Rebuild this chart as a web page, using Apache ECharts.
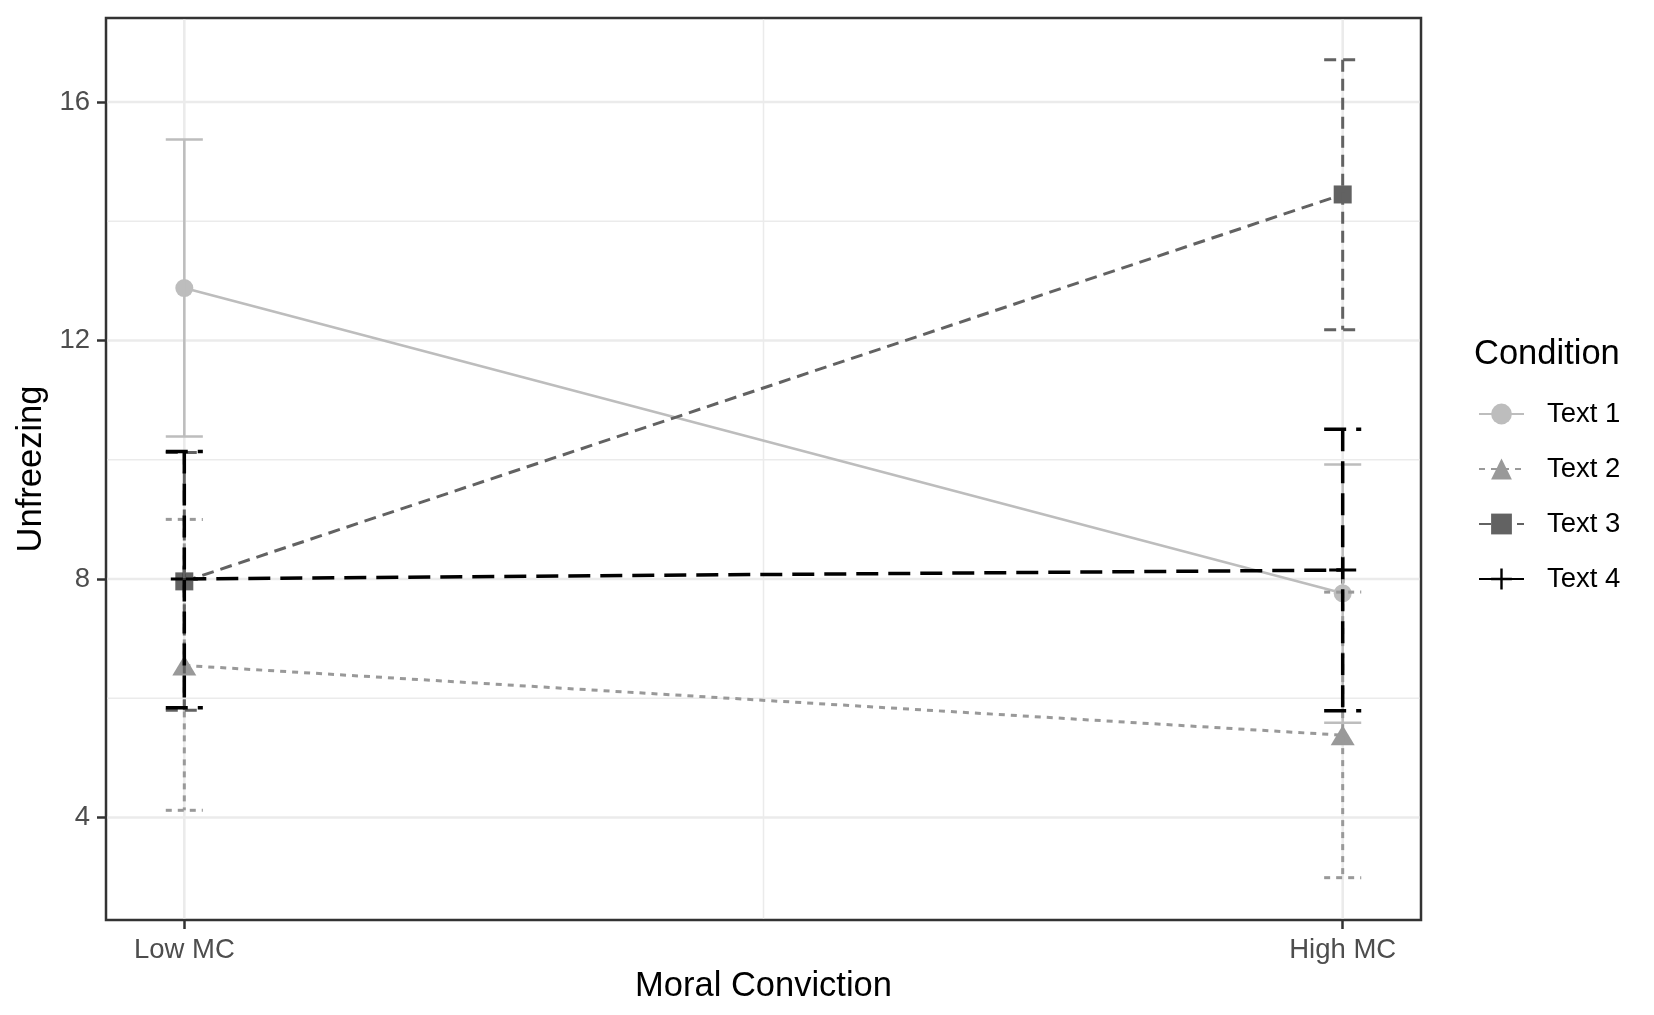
<!DOCTYPE html>
<html lang="en">
<head>
    <meta charset="utf-8">
    <title>Unfreezing by Moral Conviction</title>
    <script src="https://cdn.jsdelivr.net/npm/echarts@6/dist/echarts.min.js"></script>
    <style type="text/css">
        html, body {
            width: 100%;
            height: 100%;
            margin: 0px;
            padding: 0px;
            background: #ffffff;
        }

        #main {
            width: 1654px;
            height: 1015px;
        }
    </style>
</head>
<body>
<div id="main"></div>
<script>
    // data
    var categories = ['Low MC', 'High MC'];
    var catPos = [1, 2];
    var conditions = ['Text 1', 'Text 2', 'Text 3', 'Text 4'];

    var text1Mean = [12.88, 7.76];
    var text1Lower = [10.39, 5.59];
    var text1Upper = [15.37, 9.92];

    var text2Mean = [6.55, 5.38];
    var text2Lower = [4.12, 2.99];
    var text2Upper = [9.00, 7.78];

    var text3Mean = [7.96, 14.45];
    var text3Lower = [5.80, 12.18];
    var text3Upper = [10.12, 16.71];

    var text4Mean = [8.00, 8.15];
    var text4Lower = [5.84, 5.79];
    var text4Upper = [10.14, 10.51];

    var yTicks = [4, 8, 12, 16];
    var yMinorGrid = [6, 10, 14];
    var xMinorGrid = [1.5];

    var means = [text1Mean, text2Mean, text3Mean, text4Mean];
    var lowers = [text1Lower, text2Lower, text3Lower, text4Lower];
    var uppers = [text1Upper, text2Upper, text3Upper, text4Upper];

    // look
    var colors = ['#bdbdbd', '#999999', '#626262', '#000000'];
    var widths = [2.5, 3, 3, 3.5];
    var dashes = ['solid', [6, 6], [12, 7], [22, 10]];
    var plusPath = 'path://M11.5,0h3v11.5h11.5v3h-11.5v11.5h-3v-11.5h-11.5v-3h11.5z';
    var symbols = ['circle', 'triangle', 'rect', plusPath];
    var symbolSizes = [18, [24, 20], 18, 27];
    var errHalfWidth = 0.016;
    var fontName = '"Liberation Sans", Arial, Helvetica, sans-serif';

    var myChart = echarts.init(document.getElementById('main'));

    function gridLine(dim, width) {
        return function (params, api) {
            var cs = params.coordSys;
            var v = api.value(0);
            var shape;
            if (dim === 'y') {
                var py = api.coord([1, v])[1];
                shape = {x1: cs.x + 1.5, y1: py, x2: cs.x + cs.width - 1.5, y2: py};
            } else {
                var px = api.coord([v, 8])[0];
                shape = {x1: px, y1: cs.y + 1.5, x2: px, y2: cs.y + cs.height - 1.5};
            }
            return {type: 'line', silent: true, shape: shape, style: {stroke: '#ebebeb', lineWidth: width}};
        };
    }

    function errorBar(idx) {
        return function (params, api) {
            var x = api.value(0);
            var lo = api.coord([x, api.value(1)]);
            var hi = api.coord([x, api.value(2)]);
            var xl = api.coord([x - errHalfWidth, 8])[0];
            var xr = api.coord([x + errHalfWidth, 8])[0];
            var style = {
                stroke: colors[idx],
                lineWidth: widths[idx],
                lineDash: dashes[idx] === 'solid' ? null : dashes[idx],
                fill: null
            };
            return {
                type: 'group',
                children: [
                    {type: 'line', shape: {x1: xl, y1: hi[1], x2: xr, y2: hi[1]}, style: style},
                    {type: 'line', shape: {x1: hi[0], y1: hi[1], x2: lo[0], y2: lo[1]}, style: style},
                    {type: 'line', shape: {x1: xl, y1: lo[1], x2: xr, y2: lo[1]}, style: style}
                ]
            };
        };
    }

    var series = [
        {
            type: 'custom', name: 'gridMajorY', silent: true, z: 0,
            renderItem: gridLine('y', 2.6),
            data: yTicks.map(function (v) { return [v]; })
        },
        {
            type: 'custom', name: 'gridMinorY', silent: true, z: 0,
            renderItem: gridLine('y', 1.5),
            data: yMinorGrid.map(function (v) { return [v]; })
        },
        {
            type: 'custom', name: 'gridMajorX', silent: true, z: 0,
            renderItem: gridLine('x', 2.6),
            data: catPos.map(function (v) { return [v]; })
        },
        {
            type: 'custom', name: 'gridMinorX', silent: true, z: 0,
            renderItem: gridLine('x', 1.5),
            data: xMinorGrid.map(function (v) { return [v]; })
        }
    ];

    conditions.forEach(function (name, i) {
        var pts = catPos.map(function (x, j) { return [x, means[i][j]]; });
        // line (also drives the legend icon)
        series.push({
            name: name,
            type: 'line',
            data: pts,
            showSymbol: false,
            symbol: symbols[i],
            symbolSize: symbolSizes[i],
            lineStyle: {color: colors[i], width: widths[i], type: dashes[i]},
            itemStyle: {color: colors[i]},
            z: 2,
            animation: false
        });
    });
    conditions.forEach(function (name, i) {
        var pts = catPos.map(function (x, j) { return [x, means[i][j]]; });
        series.push({
            name: name + ' points',
            type: 'scatter',
            data: pts,
            symbol: symbols[i],
            symbolSize: symbolSizes[i],
            itemStyle: {color: colors[i], opacity: 1},
            z: 3,
            animation: false
        });
    });
    conditions.forEach(function (name, i) {
        series.push({
            name: name + ' CI',
            type: 'custom',
            renderItem: errorBar(i),
            data: catPos.map(function (x, j) { return [x, lowers[i][j], uppers[i][j]]; }),
            encode: {x: 0, y: [1, 2]},
            z: 4 + i,
            animation: false
        });
    });

    myChart.setOption({
        backgroundColor: '#ffffff',
        animation: false,
        textStyle: {fontFamily: fontName},
        grid: {
            left: 106, right: 233, top: 18, bottom: 95,
            show: true, borderColor: '#333333', borderWidth: 2.5,
            backgroundColor: 'transparent', containLabel: false
        },
        graphic: [{
            type: 'text', left: 1474, top: 337,
            style: {text: 'Condition', font: '34.5px ' + fontName, fill: '#000000'}
        }],
        legend: {
            data: conditions,
            orient: 'vertical',
            left: 1478, top: 399,
            itemWidth: 45, itemHeight: 26, itemGap: 25,
            padding: 0,
            textStyle: {fontSize: 27.5, color: '#000000', lineHeight: 30, padding: [0, 0, 0, 18], fontFamily: fontName},
            selectedMode: false
        },
        xAxis: {
            type: 'value',
            min: 1 - errHalfWidth - 0.05 * (1 + 2 * errHalfWidth),
            max: 2 + errHalfWidth + 0.05 * (1 + 2 * errHalfWidth),
            name: 'Moral Conviction',
            nameLocation: 'middle',
            nameGap: 48,
            nameTextStyle: {fontSize: 34.5, color: '#000000', fontFamily: fontName},
            axisLine: {show: false},
            splitLine: {show: false},
            axisTick: {show: true, length: 9, customValues: catPos, lineStyle: {color: '#333333', width: 2.5}},
            axisLabel: {
                customValues: catPos,
                margin: 16,
                fontSize: 27.5,
                color: '#4d4d4d',
                fontFamily: fontName,
                formatter: function (v) {
                    var k = catPos.indexOf(v);
                    return k >= 0 ? categories[k] : '';
                }
            }
        },
        yAxis: {
            type: 'value',
            min: 2.28,
            max: 17.41,
            name: 'Unfreezing',
            nameLocation: 'middle',
            nameGap: 56,
            nameTextStyle: {fontSize: 34.5, color: '#000000', fontFamily: fontName},
            axisLine: {show: false},
            splitLine: {show: false},
            axisTick: {show: true, length: 9, customValues: yTicks, lineStyle: {color: '#333333', width: 2.5}},
            axisLabel: {customValues: yTicks, margin: 16, fontSize: 27.5, color: '#4d4d4d', fontFamily: fontName}
        },
        series: series
    });
</script>
</body>
</html>
